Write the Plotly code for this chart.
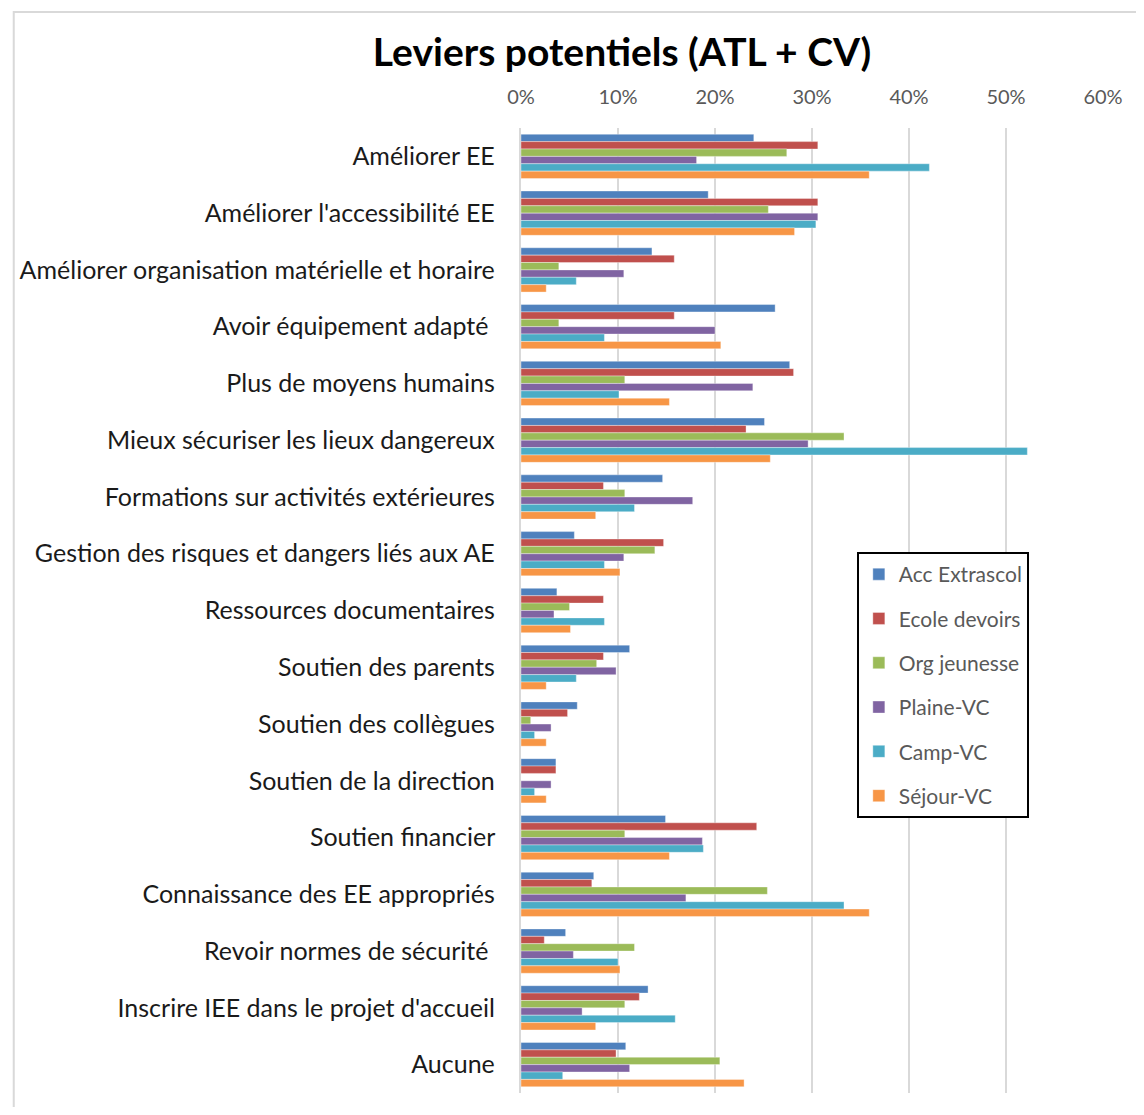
import plotly.graph_objects as go

# categories, top to bottom
categories = [
    "Améliorer EE",
    "Améliorer l'accessibilité EE",
    "Améliorer organisation matérielle et horaire",
    "Avoir équipement adapté ",
    "Plus de moyens humains",
    "Mieux sécuriser les lieux dangereux",
    "Formations sur activités extérieures",
    "Gestion des risques et dangers liés aux AE",
    "Ressources documentaires",
    "Soutien des parents",
    "Soutien des collègues",
    "Soutien de la direction",
    "Soutien financier",
    "Connaissance des EE appropriés",
    "Revoir normes de sécurité ",
    "Inscrire IEE dans le projet d'accueil",
    "Aucune",
]

acc_extrascol = [0.240, 0.193, 0.135, 0.262, 0.277, 0.251, 0.146, 0.055, 0.037,
                 0.112, 0.058, 0.036, 0.149, 0.075, 0.046, 0.131, 0.108]
ecole_devoirs = [0.306, 0.306, 0.158, 0.158, 0.281, 0.232, 0.085, 0.147, 0.085,
                 0.085, 0.048, 0.036, 0.243, 0.073, 0.024, 0.122, 0.098]
org_jeunesse = [0.274, 0.255, 0.039, 0.039, 0.107, 0.333, 0.107, 0.138, 0.050,
                0.078, 0.010, 0.0, 0.107, 0.254, 0.117, 0.107, 0.205]
plaine_vc = [0.181, 0.306, 0.106, 0.200, 0.239, 0.296, 0.177, 0.106, 0.034,
             0.098, 0.031, 0.031, 0.187, 0.170, 0.054, 0.063, 0.112]
camp_vc = [0.421, 0.304, 0.057, 0.086, 0.101, 0.522, 0.117, 0.086, 0.086,
           0.057, 0.014, 0.014, 0.188, 0.333, 0.100, 0.159, 0.043]
sejour_vc = [0.359, 0.282, 0.026, 0.206, 0.153, 0.257, 0.077, 0.102, 0.051,
             0.026, 0.026, 0.026, 0.153, 0.359, 0.102, 0.077, 0.230]

series = [
    ("Acc Extrascol", acc_extrascol, "#4F81BD"),
    ("Ecole devoirs", ecole_devoirs, "#C0504D"),
    ("Org jeunesse", org_jeunesse, "#9BBB59"),
    ("Plaine-VC", plaine_vc, "#8064A2"),
    ("Camp-VC", camp_vc, "#4BACC6"),
    ("Séjour-VC", sejour_vc, "#F79646"),
]

# page has an 8px body margin, so the figure is a bit smaller and shifted
OFF = 8
W, H = 1128, 1099
L, R, T, B = 511, 33, 120, 14
pw, ph = W - L - R, H - T - B

fig = go.Figure()
for i, (name, vals, color) in enumerate(series):
    fig.add_trace(go.Bar(
        y=categories,
        x=vals,
        name=name,
        orientation="h",
        marker=dict(color=color, line=dict(color="rgba(255,255,255,0.6)", width=0.6)),
        legendgroup=str(i),
    ))

font = "Lato, 'Open Sans', sans-serif"

fig.update_layout(
    width=W,
    height=H,
    margin=dict(l=L, r=R, t=T, b=B),
    paper_bgcolor="white",
    plot_bgcolor="white",
    barmode="group",
    bargap=0.22,
    bargroupgap=0,
    font=dict(family=font, size=20, color="#595959"),
    title=dict(
        text="<b>Leviers potentiels (ATL + CV)</b>",
        font=dict(family=font, size=39, color="black"),
        x=(622 - OFF) / W, xref="container", xanchor="center",
        y=1 - (52 - OFF) / H, yref="container", yanchor="middle",
    ),
    xaxis=dict(
        side="top",
        range=[0, 0.6],
        dtick=0.1,
        tickformat=".0%",
        showgrid=True,
        gridcolor="#d9d9d9",
        gridwidth=2,
        zeroline=False,
        showline=False,
        ticks="",
        ticklabelstandoff=19,
        tickfont=dict(size=20, color="#595959"),
    ),
    yaxis=dict(
        autorange="reversed",
        showline=True,
        linecolor="#d9d9d9",
        linewidth=2,
        ticks="",
        ticksuffix="   ",
        tickfont=dict(size=25, color="#1a1a1a"),
    ),
    legend=dict(
        x=(856 - OFF - L) / pw,
        y=1 - (552 - OFF - T) / ph,
        xanchor="left",
        yanchor="top",
        bordercolor="black",
        borderwidth=2,
        bgcolor="white",
        traceorder="grouped",
        tracegroupgap=14,
        font=dict(size=21, color="#595959"),
    ),
    shapes=[dict(
        type="rect",
        xref="paper", yref="paper",
        x0=(10 - OFF - L) / pw, x1=(W + 5 - L) / pw,
        y0=-(B + 5) / ph, y1=1 + (T - (12 - OFF)) / ph,
        line=dict(color="#d9d9d9", width=2),
        fillcolor="rgba(0,0,0,0)",
        layer="below",
    )],
)

fig.write_html("out.html")
